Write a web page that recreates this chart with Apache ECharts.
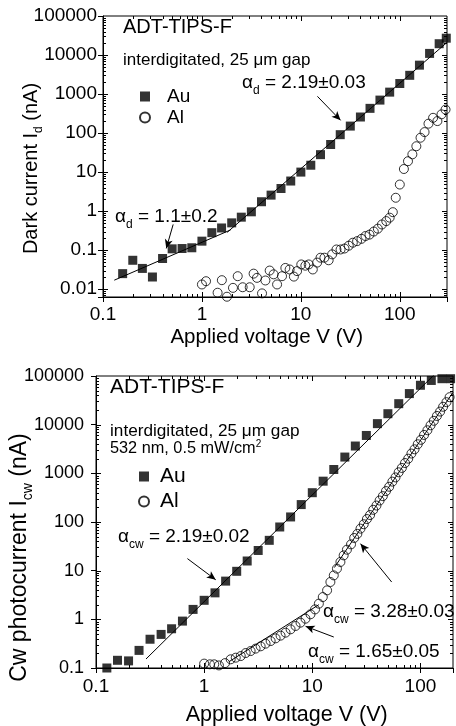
<!DOCTYPE html>
<html>
<head>
<meta charset="utf-8">
<script src="https://cdn.jsdelivr.net/npm/echarts@6/dist/echarts.min.js"></script>
<style>
  html, body { margin: 0; padding: 0; background: #fff; }
  #chart { width: 456px; height: 726px; }
</style>
</head>
<body>
<div id="chart"></div>
<script>
// ---- Dark current (top panel): [voltage V, current nA] ----
const darkAu = [
  [0.158, 0.025], [0.2, 0.055], [0.25, 0.034], [0.316, 0.0205], [0.4, 0.061],
  [0.5, 0.108], [0.63, 0.11], [0.79, 0.115], [1.0, 0.17], [1.26, 0.28],
  [1.58, 0.37], [2.0, 0.5], [2.5, 0.70], [3.16, 0.96], [4.0, 1.74],
  [5.0, 2.57], [6.3, 3.8], [7.9, 5.9], [10, 10], [12.6, 15],
  [15.8, 28], [20, 51], [25, 91], [31.6, 151], [40, 258],
  [50, 430], [63, 700], [79, 1120], [100, 1860], [126, 3020],
  [158, 5500], [200, 11000], [250, 19500], [295, 27000]
];
const darkAl = [
  [1.0, 0.0132], [1.1, 0.016], [1.44, 0.0081], [1.59, 0.017], [1.79, 0.0064],
  [2.06, 0.0108], [2.3, 0.0215], [2.58, 0.0112], [3.04, 0.0112], [3.33, 0.025],
  [3.6, 0.0195], [4.05, 0.0078], [4.38, 0.0167], [4.84, 0.030], [5.3, 0.024],
  [5.75, 0.0132], [6.45, 0.0215], [6.97, 0.035], [7.7, 0.032], [8.5, 0.021],
  [9.15, 0.029], [10.1, 0.043], [11.1, 0.040], [12, 0.043], [13.2, 0.032],
  [14.6, 0.048], [15.8, 0.064], [17.3, 0.064], [19.1, 0.055], [20.7, 0.078],
  [22.9, 0.104], [25.2, 0.104], [27.6, 0.11], [30.5, 0.13], [33.5, 0.155],
  [37, 0.17], [41, 0.195], [45, 0.23], [49.4, 0.25], [54.6, 0.30],
  [60, 0.355], [66, 0.455], [73, 0.555], [79, 0.68], [85, 0.94],
  [91, 2.2], [100, 4.8], [110, 12], [121, 19], [134, 28.5],
  [147, 46], [162, 76], [178, 106], [195, 174], [217, 246],
  [240, 203], [264, 302], [290, 400]
];
// power-law fits drawn as straight segments (end points)
const darkFitLow = [[0.13, 0.017], [1.95, 0.33]];        // alpha_d = 1.1
const darkFitHigh = [[1.8, 0.286], [300, 21000]];        // alpha_d = 2.19

// ---- Cw photocurrent (bottom panel): [voltage V, current nA] ----
const photoAu = [
  [0.126, 0.10], [0.158, 0.144], [0.2, 0.14], [0.25, 0.23], [0.316, 0.39],
  [0.4, 0.49], [0.5, 0.64], [0.63, 0.92], [0.79, 1.6], [1.0, 2.46],
  [1.26, 3.5], [1.58, 6.1], [2.0, 9.7], [2.5, 15.8], [3.16, 26],
  [4.0, 42], [5.0, 79], [6.3, 127], [7.9, 228], [10, 400],
  [12.6, 690], [15.8, 1200], [20, 2160], [25, 3640], [31.6, 6000],
  [40, 10500], [50, 16800], [63, 27000], [79, 43500], [100, 64500],
  [126, 81000], [158, 88000], [190, 88000]
];
const photoAl = [
  [1.0, 0.123], [1.13, 0.119], [1.24, 0.119], [1.37, 0.113], [1.56, 0.126],
  [1.76, 0.151], [1.96, 0.163], [2.18, 0.176], [2.42, 0.203], [2.69, 0.223],
  [2.99, 0.25], [3.33, 0.279], [3.7, 0.316], [4.12, 0.358], [4.58, 0.407],
  [5.09, 0.462], [5.66, 0.532], [6.3, 0.624], [7.0, 0.73], [7.78, 0.855],
  [8.65, 1.03], [9.62, 1.27], [10.6, 1.6], [11.5, 2.1], [12.5, 2.87],
  [13.7, 3.94], [14.7, 5.85], [15.8, 8.0], [16.9, 11], [18.2, 15.1],
  [19.5, 20.6], [20.9, 27], [22.8, 34.7], [24.4, 47], [26.1, 57],
  [27.9, 73], [29.9, 90], [32, 115], [34.2, 139], [36.6, 178],
  [39.2, 218], [41.9, 276], [44.9, 340], [48, 432], [51.4, 530],
  [55, 675], [58.8, 825], [62.9, 1050], [67.3, 1290], [72, 1630],
  [77.1, 2000], [82.5, 2550], [88.2, 3120], [94.4, 3960], [101, 4880],
  [108, 6150], [116, 7680], [124, 9700], [133, 12000], [142, 15100],
  [152, 18600], [162, 23300], [174, 29000], [186, 36700]
];
const photoFitAu = [[0.29, 0.153], [140, 117000]];       // alpha_cw = 2.19
const photoFitAlLow = [[1.7, 0.135], [11.5, 2.0]];       // alpha_cw = 1.65
const photoFitAlHigh = [[16, 11.6], [200, 46100]];       // alpha_cw = 3.28

// annotation arrows: [tail, head]
const arrowDarkHigh = [[14.7, 873], [25.2, 212]];
const arrowDarkLow = [[0.512, 0.456], [0.436, 0.111]];
const arrowPhotoAu = [[0.70, 17.7], [1.28, 6.5]];
const arrowPhotoAlHigh = [[54.2, 5.84], [27.9, 35.9]];
const arrowPhotoAlLow = [[15.8, 0.433], [8.67, 0.718]];

// axis ranges
const topX = [0.1, 300], topY = [0.0063, 100000];
const botX = [0.1, 200], botY = [0.1, 100000];

const FONT = '"Liberation Sans", Arial, sans-serif';

function logTicks(range) {
  const major = [], minor = [];
  const lo = Math.floor(Math.log10(range[0])), hi = Math.ceil(Math.log10(range[1]));
  for (let e = lo; e <= hi; e++) {
    const base = Math.pow(10, e);
    if (base > range[0] * 1.0001 && base < range[1] * 0.9999) major.push(base);
    for (let m = 2; m <= 9; m++) {
      const v = m * base;
      if (v > range[0] * 1.0001 && v < range[1] * 0.9999) minor.push(v);
    }
  }
  return { major, minor };
}

function decadeLabel(v) {
  const e = Math.log10(v);
  const r = Math.round(e);
  if (Math.abs(e - r) > 1e-6) return '';
  return r < 0 ? Number(v).toFixed(-r) : String(Math.round(v));
}

// inward major/minor ticks on all four sides of a grid
function tickSeries(gi, xr, yr) {
  const tx = logTicks(xr), ty = logTicks(yr);
  const data = [];
  tx.major.forEach(v => data.push([v, yr[0], 0, 5]));
  tx.minor.forEach(v => data.push([v, yr[0], 0, 3]));
  ty.major.forEach(v => data.push([xr[0], v, 1, 5]));
  ty.minor.forEach(v => data.push([xr[0], v, 1, 3]));
  const st = { stroke: '#000', lineWidth: 1 };
  return {
    type: 'custom', xAxisIndex: gi, yAxisIndex: gi, silent: true, clip: false, z: 5,
    data: data,
    renderItem: function (params, api) {
      const kind = api.value(2), len = api.value(3);
      const a = api.coord([api.value(0), api.value(1)]);
      if (kind === 0) {
        const b = api.coord([api.value(0), yr[1]]);
        const x = Math.round(a[0]) + 0.5;
        return { type: 'group', children: [
          { type: 'line', shape: { x1: x, y1: a[1], x2: x, y2: a[1] - len }, style: st },
          { type: 'line', shape: { x1: x, y1: b[1], x2: x, y2: b[1] + len }, style: st }
        ] };
      }
      const b = api.coord([xr[1], api.value(1)]);
      const y = Math.round(a[1]) + 0.5;
      return { type: 'group', children: [
        { type: 'line', shape: { x1: a[0], y1: y, x2: a[0] + len, y2: y }, style: st },
        { type: 'line', shape: { x1: b[0], y1: y, x2: b[0] - len, y2: y }, style: st }
      ] };
    }
  };
}

function logAxis(gi, range, labelSize, margin) {
  return {
    type: 'log', logBase: 10, gridIndex: gi, min: range[0], max: range[1],
    splitNumber: 10,
    axisLine: { lineStyle: { color: '#000', width: 1 } },
    axisTick: { show: true, inside: false, length: 5, lineStyle: { color: '#000', width: 1 } },
    minorTick: { show: false },
    splitLine: { show: false },
    axisLabel: { color: '#000', fontSize: labelSize, fontFamily: FONT, margin: margin, formatter: decadeLabel }
  };
}

const squareStyle = { color: '#000' };
const circleStyle = { color: 'rgba(0,0,0,0)', borderColor: '#000', borderWidth: 1 };

function scatter(gi, name, data, symbol, style) {
  return {
    type: 'scatter', name: name, xAxisIndex: gi, yAxisIndex: gi, data: data,
    symbol: symbol, symbolSize: 9, itemStyle: style, silent: true, z: 3
  };
}

function fitLine(gi, data, arrow) {
  const s = {
    type: 'line', xAxisIndex: gi, yAxisIndex: gi, data: data, showSymbol: false,
    symbol: 'none', lineStyle: { color: '#000', width: 1 }, silent: true, z: 4, clip: true
  };
  if (arrow) {
    s.markLine = {
      silent: true, animation: false,
      label: { show: false },
      lineStyle: { color: '#000', width: 1, type: 'solid' },
      emphasis: { disabled: true },
      data: [[
        { coord: arrow[0], symbol: 'none' },
        { coord: arrow[1], symbol: 'arrow', symbolSize: [6, 9] }
      ]]
    };
  }
  return s;
}

function alphaLabel(x, y, sub, rest, size) {
  return {
    type: 'text', x: x, y: y, z: 10,
    style: {
      text: '{g|α}{s|' + sub + '}{t| = ' + rest + '}',
      align: 'left', verticalAlign: 'middle', fill: '#000',
      rich: {
        g: { fontSize: size, lineHeight: 28, fontFamily: FONT, fill: '#000' },
        s: { fontSize: 12, lineHeight: 12, verticalAlign: 'bottom', fontFamily: FONT, fill: '#000' },
        t: { fontSize: size, lineHeight: 28, fontFamily: FONT, fill: '#000' }
      }
    }
  };
}

function plainText(x, y, text, size) {
  return {
    type: 'text', x: x, y: y, z: 10,
    style: { text: text, fill: '#000', font: size + 'px ' + FONT, align: 'left', verticalAlign: 'middle' }
  };
}

function centerText(x, y, text, size) {
  return {
    type: 'text', x: x, y: y, z: 10,
    style: { text: text, fill: '#000', font: size + 'px ' + FONT, align: 'center', verticalAlign: 'middle' }
  };
}

function yTitle(x, y, main, sub, size) {
  return {
    type: 'text', x: x, y: y, rotation: Math.PI / 2, z: 10,
    style: {
      text: '{t|' + main + '}{s|' + sub + '}{t| (nA)}',
      align: 'center', verticalAlign: 'middle', fill: '#000',
      rich: {
        t: { fontSize: size, lineHeight: size + 8, fontFamily: FONT, fill: '#000' },
        s: { fontSize: Math.round(size * 0.62), lineHeight: Math.round(size * 0.62), verticalAlign: 'bottom', fontFamily: FONT, fill: '#000' }
      }
    }
  };
}

function legend(left, top, size, gap, pad) {
  return {
    data: ['Au', 'Al'], orient: 'vertical', left: left, top: top, padding: 0,
    itemWidth: 10, itemHeight: 10, itemGap: gap, selectedMode: false,
    textStyle: { fontSize: size, fontFamily: FONT, color: '#000', padding: [0, 0, 0, pad] }
  };
}

const chart = echarts.init(document.getElementById('chart'), null, { renderer: 'canvas' });

chart.setOption({
  animation: false,
  backgroundColor: '#fff',
  grid: [
    { left: 103, top: 16, width: 344, height: 281, show: true, borderColor: '#000', borderWidth: 1, backgroundColor: 'transparent' },
    { left: 96, top: 376, width: 358, height: 292, show: true, borderColor: '#000', borderWidth: 1, backgroundColor: 'transparent' }
  ],
  xAxis: [logAxis(0, topX, 19, 8), logAxis(1, botX, 19, 9)],
  yAxis: [logAxis(0, topY, 19, 6), logAxis(1, botY, 18, 12)],
  legend: [legend(139, 87, 19, 2, 12), legend(138, 466, 21, 4, 6)],
  series: [
    scatter(0, 'Au', darkAu, 'rect', squareStyle),
    scatter(0, 'Al', darkAl, 'circle', circleStyle),
    fitLine(0, darkFitLow, arrowDarkLow),
    fitLine(0, darkFitHigh, arrowDarkHigh),
    scatter(1, 'Au', photoAu, 'rect', squareStyle),
    scatter(1, 'Al', photoAl, 'circle', circleStyle),
    fitLine(1, photoFitAu, arrowPhotoAu),
    fitLine(1, photoFitAlLow, arrowPhotoAlLow),
    fitLine(1, photoFitAlHigh, arrowPhotoAlHigh),
    tickSeries(0, topX, topY),
    tickSeries(1, botX, botY)
  ],
  graphic: [
    plainText(123, 27.5, 'ADT-TIPS-F', 20),
    plainText(123, 60, 'interdigitated, 25 μm gap', 17),
    alphaLabel(242, 83, 'd', '2.19±0.03', 19),
    alphaLabel(115, 217, 'd', '1.1±0.2', 19),
    centerText(266.7, 337, 'Applied voltage V (V)', 20.5),
    yTitle(31, 168.5, 'Dark current I', 'd', 20),

    plainText(110, 387, 'ADT-TIPS-F', 21),
    plainText(110, 431.7, 'interdigitated, 25 μm gap', 17.2),
    {
      type: 'text', x: 110, y: 449, z: 10,
      style: {
        text: '{t|532 nm, 0.5 mW/cm}{p|2}', align: 'left', verticalAlign: 'middle', fill: '#000',
        rich: {
          t: { fontSize: 16.3, lineHeight: 20, fontFamily: FONT, fill: '#000' },
          p: { fontSize: 10, lineHeight: 10, verticalAlign: 'top', fontFamily: FONT, fill: '#000' }
        }
      }
    },
    alphaLabel(118, 536.7, 'cw', '2.19±0.02', 19),
    alphaLabel(323, 611.7, 'cw', '3.28±0.03', 19),
    alphaLabel(308, 651.7, 'cw', '1.65±0.05', 19),
    centerText(286.7, 715, 'Applied voltage V (V)', 21.5),
    yTitle(20, 557.5, 'Cw photocurrent I', 'cw', 23)
  ]
});
</script>
</body>
</html>
